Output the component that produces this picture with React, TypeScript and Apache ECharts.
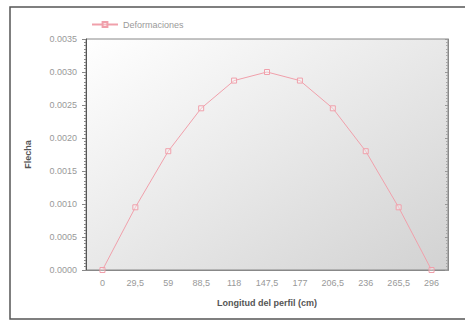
import React, { useEffect, useRef } from "react";
import * as echarts from "echarts";

const categories = ["0", "29,5", "59", "88,5", "118", "147,5", "177", "206,5", "236", "265,5", "296"];
const deformaciones = [0, 0.00095, 0.0018, 0.00245, 0.00287, 0.003, 0.00287, 0.00245, 0.0018, 0.00095, 0];
const seriesName = "Deformaciones";
const yName = "Flecha";
const xName = "Longitud del perfil (cm)";

export default function App() {
  const ref = useRef<HTMLDivElement>(null);
  useEffect(() => {
    document.body.style.margin = "0";
    const chart = echarts.init(ref.current!, null, { renderer: "svg" });
    const pink = "#f0a0ab";
    const labelColor = "#999999";
    chart.setOption({
      animation: false,
      backgroundColor: "#ffffff",
      graphic: [
        {
          type: "rect",
          shape: { x: 10, y: 7, width: 470, height: 312 },
          style: { fill: "none", stroke: "#555", lineWidth: 1.5 },
          silent: true,
        },
      ],
      legend: {
        left: 86,
        top: 15,
        itemWidth: 26,
        itemHeight: 6,
        itemGap: 6,
        textStyle: { color: "#9a9a9a", fontSize: 9, fontFamily: "Liberation Sans" },
        data: [seriesName],
      },
      grid: {
        left: 86,
        top: 39,
        right: 17,
        bottom: 50,
        show: true,
        borderColor: "#888",
        borderWidth: 1,
        backgroundColor: new echarts.graphic.LinearGradient(0, 0, 1, 1, [
          { offset: 0, color: "#ffffff" },
          { offset: 1, color: "#d2d2d2" },
        ]),
      },
      xAxis: [
        {
          type: "category",
          data: categories,
          boundaryGap: true,
          name: xName,
          nameLocation: "middle",
          nameGap: 28,
          nameTextStyle: { color: "#555", fontSize: 9, fontWeight: "bold", fontFamily: "Liberation Sans" },
          axisLine: { lineStyle: { color: "#555" } },
          axisTick: { alignWithLabel: true, length: 4, lineStyle: { color: "#888" } },
          axisLabel: { color: labelColor, fontSize: 9, margin: 8, fontFamily: "Liberation Sans" },
          splitLine: { show: false },
        },
        {
          type: "category",
          data: categories,
          position: "top",
          boundaryGap: true,
          axisLine: { lineStyle: { color: "#888" } },
          axisTick: { alignWithLabel: true, inside: true, length: 3, lineStyle: { color: "#999" } },
          axisLabel: { show: false },
        },
      ],
      yAxis: [
        {
          type: "value",
          min: 0,
          max: 0.0035,
          interval: 0.0005,
          name: yName,
          nameLocation: "middle",
          nameGap: 54,
          nameRotate: 90,
          nameTextStyle: { color: "#555", fontSize: 9, fontWeight: "bold", fontFamily: "Liberation Sans" },
          axisLine: { show: true, lineStyle: { color: "#555" } },
          axisTick: { show: true, length: 4, lineStyle: { color: "#888" } },
          minorTick: { show: true, splitNumber: 10, length: 2, lineStyle: { color: "#888" } },
          axisLabel: {
            color: labelColor,
            fontSize: 9,
            margin: 9,
            fontFamily: "Liberation Sans",
            formatter: (v: number) => v.toFixed(4),
          },
          splitLine: { show: false },
        },
        {
          type: "value",
          min: 0,
          max: 0.0035,
          interval: 0.0005,
          position: "right",
          axisLine: { show: true, lineStyle: { color: "#888" } },
          axisTick: { show: true, inside: true, length: 3, lineStyle: { color: "#999" } },
          minorTick: { show: true, splitNumber: 10, length: 2, lineStyle: { color: "#aaa" } },
          axisLabel: { show: false },
          splitLine: { show: false },
        },
      ],
      series: [
        {
          name: seriesName,
          type: "line",
          data: deformaciones,
          symbol: "rect",
          symbolSize: 5,
          showAllSymbol: true,
          lineStyle: { color: pink, width: 1 },
          itemStyle: { color: "rgba(255,255,255,0.3)", borderColor: pink, borderWidth: 1 },
        },
      ],
    });
    return () => chart.dispose();
  }, []);
  return <div ref={ref} style={{ position: "absolute", left: 0, top: 0, width: 465, height: 320 }} />;
}
